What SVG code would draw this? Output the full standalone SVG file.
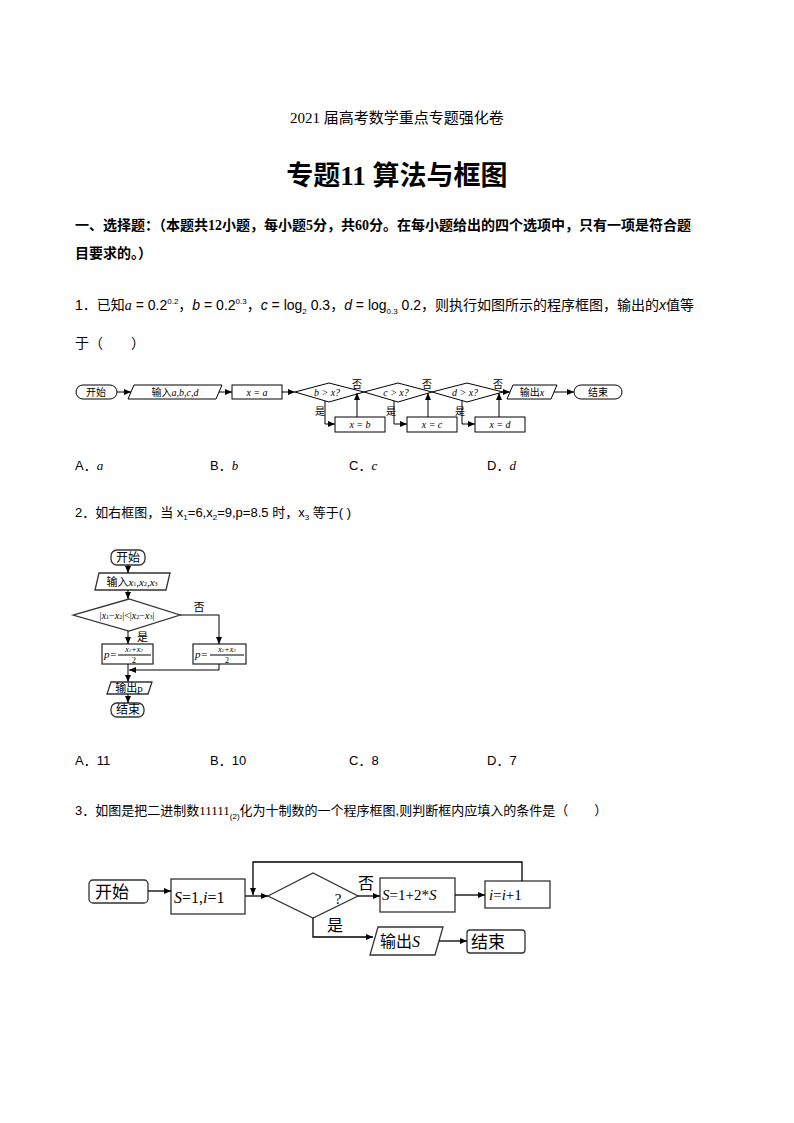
<svg xmlns="http://www.w3.org/2000/svg" width="794" height="1123" viewBox="0 0 794 1123">
<defs>
<marker id="ar" markerWidth="8" markerHeight="8" refX="7" refY="4" orient="auto" markerUnits="userSpaceOnUse"><path d="M0,1 L7,4 L0,7 Z" fill="#000"/></marker>
</defs>
<style>
text{font-family:"Liberation Serif","Noto Sans CJK SC",serif;fill:#000}
.s{font-family:"Liberation Sans","Noto Sans CJK SC",sans-serif}
.sh{fill:#fff;stroke:#000;stroke-width:1}
.sh2{fill:#fff;stroke:#333;stroke-width:1.3}
.ln{fill:none;stroke:#000;stroke-width:1}
.ln2{fill:none;stroke:#000;stroke-width:1.3}
.i{font-style:italic}
</style>
<rect width="794" height="1123" fill="#fff"/>
<text x="397" y="123" font-size="15" text-anchor="middle">2021 届高考数学重点专题强化卷</text>
<text x="397" y="185" font-size="27" font-weight="bold" text-anchor="middle">专题11  算法与框图</text>
<text x="75" y="230" font-size="14" font-weight="bold">一、选择题：（本题共12小题，每小题5分，共60分。在每小题给出的四个选项中，只有一项是符合题</text>
<text x="75" y="258" font-size="14" font-weight="bold">目要求的。）</text>
<text x="75" y="310" font-size="14" class="s">1．已知<tspan class="i" font-family="Liberation Serif">a</tspan> = 0.2<tspan font-size="8" dy="-6">0.2</tspan><tspan dy="6">，</tspan><tspan class="i">b</tspan> = 0.2<tspan font-size="8" dy="-6">0.3</tspan><tspan dy="6">，</tspan><tspan class="i">c</tspan> = log<tspan font-size="8" dy="4">2</tspan><tspan dy="-4"> 0.3，</tspan><tspan class="i">d</tspan> = log<tspan font-size="8" dy="4">0.3</tspan><tspan dy="-4"> 0.2，则执行如图所示的程序框图，输出的</tspan><tspan class="i">x</tspan>值等</text>
<text x="75" y="348" font-size="14" class="s">于（　　）</text>

<g id="q1">
<g id="q1-start"><rect class="sh" x="76" y="385" width="41" height="14" rx="7"/><text x="96" y="396" font-size="10" text-anchor="middle">开始</text></g>
<g id="q1-input"><polygon class="sh" points="134,385 222,385 216,399 128,399"/><text x="175" y="396" font-size="10" text-anchor="middle">输入<tspan class="i">a,b,c,d</tspan></text></g>
<g id="q1-xa"><rect class="sh" x="232" y="385" width="50" height="14"/><text x="257" y="396" font-size="10" text-anchor="middle" class="i">x = a</text></g>
<g id="q1-d1"><polygon class="sh" points="295,392 329,383 364,392 329,402"/><text x="327" y="396" font-size="10" text-anchor="middle" class="i">b &gt; x?</text></g>
<g id="q1-d2"><polygon class="sh" points="364,392 398,383 432,392 398,402"/><text x="396" y="396" font-size="10" text-anchor="middle" class="i">c &gt; x?</text></g>
<g id="q1-d3"><polygon class="sh" points="432,392 467,383 503,392 467,402"/><text x="465" y="396" font-size="10" text-anchor="middle" class="i">d &gt; x?</text></g>
<g id="q1-out"><polygon class="sh" points="513,385 557,385 551,399 507,399"/><text x="532" y="396" font-size="10" text-anchor="middle">输出<tspan class="i">x</tspan></text></g>
<g id="q1-end"><rect class="sh" x="574" y="385" width="48" height="14" rx="7"/><text x="598" y="396" font-size="10" text-anchor="middle">结束</text></g>
<g id="q1-xb"><rect class="sh" x="335" y="417" width="50" height="15"/><text x="360" y="428" font-size="10" text-anchor="middle" class="i">x = b</text></g>
<g id="q1-xc"><rect class="sh" x="407" y="417" width="50" height="15"/><text x="432" y="428" font-size="10" text-anchor="middle" class="i">x = c</text></g>
<g id="q1-xd"><rect class="sh" x="475" y="417" width="50" height="15"/><text x="500" y="428" font-size="10" text-anchor="middle" class="i">x = d</text></g>
<text x="357" y="388" font-size="10" text-anchor="middle">否</text>
<text x="427" y="388" font-size="10" text-anchor="middle">否</text>
<text x="498" y="388" font-size="10" text-anchor="middle">否</text>
<text x="320" y="415" font-size="10" text-anchor="middle">是</text>
<text x="391" y="415" font-size="10" text-anchor="middle">是</text>
<text x="460" y="415" font-size="10" text-anchor="middle">是</text>
</g>
<g id="q1-connectors">
<line class="ln" x1="117" y1="392" x2="131" y2="392" marker-end="url(#ar)"/>
<line class="ln" x1="219" y1="392" x2="232" y2="392" marker-end="url(#ar)"/>
<line class="ln" x1="282" y1="392" x2="295" y2="392" marker-end="url(#ar)"/>
<line class="ln" x1="503" y1="392" x2="510" y2="392" marker-end="url(#ar)"/>
<line class="ln" x1="554" y1="392" x2="574" y2="392" marker-end="url(#ar)"/>
<polyline class="ln" points="325,401 325,424 335,424" marker-end="url(#ar)"/>
<polyline class="ln" points="394,401 394,424 407,424" marker-end="url(#ar)"/>
<polyline class="ln" points="462,401 462,424 475,424" marker-end="url(#ar)"/>
<line class="ln" x1="357" y1="417" x2="357" y2="393" marker-end="url(#ar)"/>
<line class="ln" x1="428" y1="417" x2="428" y2="393" marker-end="url(#ar)"/>
<line class="ln" x1="499" y1="417" x2="499" y2="393" marker-end="url(#ar)"/>
</g>

<text x="75" y="470" font-size="13" class="s">A．<tspan class="i" font-family="Liberation Serif">a</tspan></text>
<text x="210" y="470" font-size="13" class="s">B．<tspan class="i" font-family="Liberation Serif">b</tspan></text>
<text x="349" y="470" font-size="13" class="s">C．<tspan class="i" font-family="Liberation Serif">c</tspan></text>
<text x="487" y="470" font-size="13" class="s">D．<tspan class="i" font-family="Liberation Serif">d</tspan></text>

<text x="75" y="517" font-size="13" class="s">2．如右框图，当 x<tspan font-size="8" dy="3">1</tspan><tspan dy="-3">=6,x</tspan><tspan font-size="8" dy="3">2</tspan><tspan dy="-3">=9,p=8.5 时，x</tspan><tspan font-size="8" dy="3">3</tspan><tspan dy="-3"> 等于( )</tspan></text>

<g id="q2">
<g id="q2-start"><rect class="sh2" x="111" y="550" width="34" height="15" rx="6"/><text x="128" y="562" font-size="12" text-anchor="middle">开始</text></g>
<g id="q2-input"><polygon class="sh2" points="99,573 170,573 166,590 95,590"/><text x="132" y="586" font-size="11" text-anchor="middle">输入<tspan class="i">x</tspan><tspan font-size="6">1</tspan>,<tspan class="i">x</tspan><tspan font-size="6">2</tspan>,<tspan class="i">x</tspan><tspan font-size="6">3</tspan></text></g>
<g id="q2-dec"><polygon class="sh2" points="73,615 129,599 180,615 129,631"/><text x="127" y="619" font-size="10" text-anchor="middle">|<tspan class="i">x</tspan><tspan font-size="6">1</tspan>−<tspan class="i">x</tspan><tspan font-size="6">2</tspan>|&lt;|<tspan class="i">x</tspan><tspan font-size="6">2</tspan>−<tspan class="i">x</tspan><tspan font-size="6">3</tspan>|</text></g>
<g id="q2-p1"><rect class="sh2" x="102" y="644" width="51" height="20"/><text x="104" y="658" font-size="11" class="i">p=</text><line class="ln" x1="118" y1="655" x2="151" y2="655"/><text x="134" y="652" font-size="8" text-anchor="middle" class="i">x<tspan font-size="5">1</tspan>+x<tspan font-size="5">3</tspan></text><text x="134" y="663" font-size="8" text-anchor="middle">2</text></g>
<g id="q2-p2"><rect class="sh2" x="193" y="644" width="53" height="20"/><text x="195" y="658" font-size="11" class="i">p=</text><line class="ln" x1="210" y1="655" x2="244" y2="655"/><text x="227" y="652" font-size="8" text-anchor="middle" class="i">x<tspan font-size="5">2</tspan>+x<tspan font-size="5">3</tspan></text><text x="227" y="663" font-size="8" text-anchor="middle">2</text></g>
<g id="q2-out"><polygon class="sh2" points="111,682 152,682 148,694 107,694"/><text x="129" y="692" font-size="11" text-anchor="middle">输出p</text></g>
<g id="q2-end"><rect class="sh2" x="111" y="703" width="33" height="14" rx="6"/><text x="128" y="714" font-size="12" text-anchor="middle">结束</text></g>
<text x="199" y="611" font-size="11" text-anchor="middle">否</text>
<text x="137" y="641" font-size="11">是</text>
</g>
<g id="q2-connectors">
<line class="ln" x1="128" y1="565" x2="128" y2="573" marker-end="url(#ar)"/>
<line class="ln" x1="128" y1="590" x2="128" y2="599" marker-end="url(#ar)"/>
<line class="ln" x1="128" y1="631" x2="128" y2="644" marker-end="url(#ar)"/>
<polyline class="ln" points="180,615 219,615 219,644" marker-end="url(#ar)"/>
<line class="ln" x1="128" y1="664" x2="128" y2="682" marker-end="url(#ar)"/>
<polyline class="ln" points="219,664 219,670 129,670" marker-end="url(#ar)"/>
<line class="ln" x1="128" y1="694" x2="128" y2="703" marker-end="url(#ar)"/>
</g>

<text x="75" y="765" font-size="13" class="s">A．11</text>
<text x="210" y="765" font-size="13" class="s">B．10</text>
<text x="349" y="765" font-size="13" class="s">C．8</text>
<text x="487" y="765" font-size="13" class="s">D．7</text>

<text x="75" y="815" font-size="13" class="s">3．如图是把二进制数<tspan font-family="Liberation Serif">11111</tspan><tspan font-size="8" dy="4">(2)</tspan><tspan dy="-4">化为十制数的一个程序框图,则判断框内应填入的条件是（　　）</tspan></text>

<g id="q3">
<g id="q3-start"><rect class="sh2" x="89" y="880" width="59" height="23" rx="4"/><text x="95" y="898" font-size="17">开始</text></g>
<g id="q3-init"><rect class="sh2" x="171" y="879" width="74" height="35"/><text x="174" y="903" font-size="16"><tspan class="i">S</tspan>=1,<tspan class="i">i</tspan>=1</text></g>
<g id="q3-dec"><polygon class="sh2" points="268,896 313,873 358,896 313,918"/><text x="338" y="904" font-size="15" text-anchor="middle">?</text></g>
<g id="q3-s"><rect class="sh2" x="380" y="878" width="75" height="34"/><text x="382" y="900" font-size="15"><tspan class="i">S</tspan>=1+2*<tspan class="i">S</tspan></text></g>
<g id="q3-i"><rect class="sh2" x="485" y="881" width="65" height="27"/><text x="489" y="900" font-size="15"><tspan class="i">i</tspan>=<tspan class="i">i</tspan>+1</text></g>
<g id="q3-out"><polygon class="sh2" points="378,927 443,927 435,955 370,955"/><text x="380" y="947" font-size="16">输出<tspan class="i">S</tspan></text></g>
<g id="q3-end"><rect class="sh2" x="467" y="930" width="58" height="23" rx="3"/><text x="471" y="948" font-size="17">结束</text></g>
<text x="358" y="889" font-size="16">否</text>
<text x="327" y="931" font-size="16">是</text>
</g>
<g id="q3-connectors">
<line class="ln2" x1="148" y1="891" x2="171" y2="891" marker-end="url(#ar)"/>
<line class="ln2" x1="245" y1="896" x2="268" y2="896" marker-end="url(#ar)"/>
<line class="ln2" x1="358" y1="896" x2="380" y2="896" marker-end="url(#ar)"/>
<line class="ln2" x1="455" y1="895" x2="485" y2="895" marker-end="url(#ar)"/>
<polyline class="ln2" points="522,881 522,862 253,862 253,895" marker-end="url(#ar)"/>
<polyline class="ln2" points="313,918 313,937 373,937" marker-end="url(#ar)"/>
<line class="ln2" x1="439" y1="941" x2="467" y2="941" marker-end="url(#ar)"/>
</g>
</svg>
